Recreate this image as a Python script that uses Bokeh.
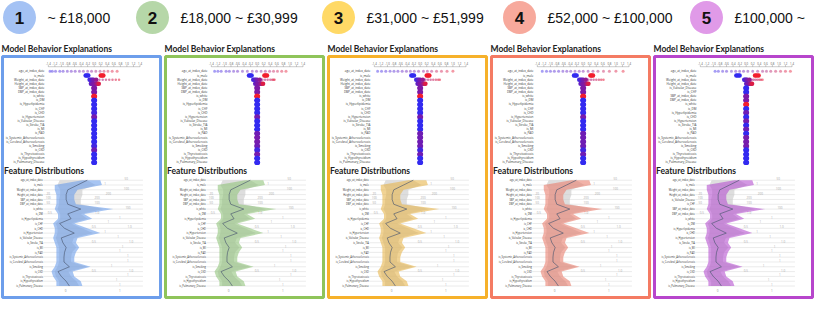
import numpy as np
from bokeh.plotting import figure
from bokeh.layouts import column, row
from bokeh.models import Range1d, LinearColorMapper, ColumnDataSource
from bokeh.core.properties import value
from bokeh.embed import file_html
from bokeh.resources import INLINE

# ---------------- data ----------------
GROUP_NUMBERS = ["1", "2", "3", "4", "5"]
GROUP_LABELS = ["~ £18,000", "£18,000 ~ £30,999", "£31,000 ~ £51,999",
                "£52,000 ~ £100,000", "£100,000 ~"]
CIRCLE_COLORS = ["#a4c2f4", "#b6d7a8", "#ffd966", "#f7a99c", "#e09ae8"]
BORDER_COLORS = ["#6d9eeb", "#8fc45a", "#f6b12a", "#f47b63", "#b746cc"]
BAND_COLORS = ["#6d9eeb", "#93c47d", "#e8b64c", "#ea7f6e", "#b552d0"]

FEATURES = ["age_at_index_date", "is_male", "Weight_at_index_date", "Height_at_index_date",
            "SBP_at_index_date", "DBP_at_index_date", "is_white", "is_DM", "is_Hyperlipidemia",
            "is_CHF", "is_CHD", "is_Hypertension", "is_Valvular_Disease", "is_Stroke_TIA",
            "is_MI", "is_PAD", "is_Systemic_Atherosclerosis", "is_Cerebral_Atherosclerosis",
            "is_Smoking", "is_CKD", "is_Thyrotoxicosis", "is_Hypothyroidism",
            "is_Pulmonary_Disease"]
FEATURES_P5 = ["age_at_index_date", "is_male", "Weight_at_index_date", "Height_at_index_date",
               "is_Valvular_Disease", "is_CHF", "SBP_at_index_date", "DBP_at_index_date",
               "is_white", "is_DM", "is_Hyperlipidemia", "is_CHD", "is_Hypertension",
               "is_Stroke_TIA", "is_MI", "is_PAD", "is_Systemic_Atherosclerosis",
               "is_Cerebral_Atherosclerosis", "is_Smoking", "is_CKD", "is_Thyrotoxicosis",
               "is_Hypothyroidism", "is_Pulmonary_Disease"]
PANEL_FEATURES = [FEATURES, FEATURES, FEATURES, FEATURES, FEATURES_P5]

SHAP_TICKS = [-1.4, -1.2, -1.0, -0.8, -0.6, -0.4, -0.2, 0.0, 0.2, 0.4, 0.6, 0.8, 1.0, 1.2, 1.4]

# SHAP values (x) and normalised feature values (colour) per panel
AGE_SHAP = [
    [-1.35, -1.28, -1.18, -1.05, -0.95, -0.82, -0.7, -0.58, -0.45, -0.33, -0.2, -0.08, 0.05, 0.18, 0.3, 0.42, 0.55, 0.7],
    [-1.3, -1.2, -1.1, -0.95, -0.85, -0.72, -0.6, -0.45, -0.3, -0.15, -0.02, 0.12, 0.25, 0.38, 0.5, 0.62, 0.75, 0.88],
    [-1.3, -1.18, -1.05, -0.92, -0.8, -0.68, -0.55, -0.42, -0.3, -0.18, -0.05, 0.1, 0.22, 0.35, 0.5, 0.65, 0.82, 1.0],
    [-1.25, -1.12, -1.0, -0.88, -0.75, -0.62, -0.5, -0.38, -0.25, -0.12, 0.0, 0.15, 0.3, 0.45, 0.62, 0.8, 1.0, 1.22],
    [-0.95, -0.85, -0.72, -0.6, -0.45, -0.32, -0.2, -0.08, 0.05, 0.2, 0.35, 0.5, 0.62, 0.75, 0.9, 1.05, 1.2, 1.35],
]
AGE_VAL = [
    [0.05, 0.1, 0.15, 0.15, 0.2, 0.25, 0.3, 0.3, 0.4, 0.45, 0.5, 0.55, 0.65, 0.7, 0.8, 0.85, 0.9, 0.95],
    [0.05, 0.1, 0.15, 0.15, 0.2, 0.25, 0.3, 0.35, 0.4, 0.45, 0.5, 0.55, 0.65, 0.7, 0.8, 0.85, 0.9, 0.95],
    [0.05, 0.1, 0.15, 0.2, 0.2, 0.25, 0.3, 0.35, 0.4, 0.45, 0.5, 0.55, 0.65, 0.7, 0.8, 0.85, 0.9, 0.95],
    [0.05, 0.1, 0.15, 0.2, 0.2, 0.25, 0.3, 0.35, 0.4, 0.45, 0.5, 0.55, 0.65, 0.7, 0.8, 0.85, 0.9, 0.95],
    [0.05, 0.1, 0.15, 0.2, 0.25, 0.3, 0.35, 0.4, 0.45, 0.5, 0.6, 0.65, 0.7, 0.75, 0.8, 0.85, 0.9, 0.95],
]
MALE_SHAP = [
    [-0.26, -0.22, -0.18, 0.2, 0.24, 0.28],
    [-0.25, -0.21, -0.17, 0.22, 0.26, 0.3],
    [-0.27, -0.23, -0.19, 0.2, 0.24, 0.28],
    [-0.28, -0.24, -0.2, 0.22, 0.26, 0.3],
    [-0.3, -0.25, -0.2, 0.27, 0.32, 0.38],
]
MALE_VAL = [0, 0, 0, 1, 1, 1]
WEIGHT_SHAP = [
    [-0.14, -0.1, -0.06, -0.02, 0.06, 0.16, 0.26, 0.36, 0.46, 0.56, 0.66, 0.76],
    [-0.12, -0.08, -0.04, 0.0, 0.08, 0.16, 0.24, 0.32, 0.4, 0.46, 0.5, 0.53],
    [-0.12, -0.08, -0.04, 0.0, 0.08, 0.16, 0.24, 0.32, 0.4, 0.48, 0.55, 0.6],
    [-0.12, -0.08, -0.04, 0.0, 0.08, 0.16, 0.24, 0.32, 0.4, 0.48, 0.55, 0.62],
    [-0.06, -0.03, 0.0, 0.03, 0.1, 0.16, 0.22, 0.28, 0.34, 0.4, 0.45, 0.5],
]
WEIGHT_VAL = [0.1, 0.2, 0.3, 0.45, 0.6, 0.65, 0.7, 0.75, 0.8, 0.85, 0.9, 0.95]
HEIGHT_SHAP = [
    [-0.1, -0.06, -0.02, 0.02, 0.06, 0.1, 0.14],
    [-0.06, -0.02, 0.02, 0.06, 0.1, 0.14, 0.18],
    [-0.08, -0.04, 0.0, 0.04, 0.08, 0.12, 0.16],
    [-0.08, -0.04, 0.0, 0.04, 0.08, 0.12, 0.16],
    [0.0, 0.03, 0.06, 0.09, 0.12, 0.15, 0.18],
]
HEIGHT_VAL = [0.3, 0.4, 0.5, 0.5, 0.6, 0.7, 0.9]
COLUMN_SHAP = [-0.015, 0.0, 0.015]
# mean colour value of the remaining (near-zero) rows, in each panel's row order
COLUMN_VAL = [
    [0.5, 0.5, 1.0, 0.0, 0.0, 0.0, 0.1, 0.45, 0.0, 0.0, 0.0, 0.0, 0.0, 0.0, 0.1, 0.4, 0.0, 0.0, 0.0],
    [0.5, 0.5, 1.0, 0.0, 0.0, 0.0, 0.0, 0.45, 0.0, 0.0, 0.0, 0.4, 0.45, 0.45, 0.4, 0.1, 0.45, 0.0, 0.0],
    [0.5, 0.5, 1.0, 0.0, 0.0, 0.0, 0.0, 0.45, 0.0, 0.0, 0.0, 0.4, 0.4, 0.4, 0.4, 0.1, 0.4, 0.0, 0.0],
    [0.5, 0.5, 1.0, 0.0, 0.0, 0.0, 0.0, 0.45, 0.0, 0.0, 0.0, 0.4, 0.4, 0.4, 0.4, 0.1, 0.4, 0.0, 0.0],
    [0.0, 0.0, 0.5, 0.5, 1.0, 0.0, 0.4, 0.0, 0.45, 0.0, 0.4, 0.0, 0.45, 0.45, 0.45, 0.0, 0.0, 0.0, 0.0],
]

# feature distributions (normalised axis positions), per panel, in each panel's row order
DIST_LO = [
    [0.31, -0.20, -0.20, -0.17, -0.17, -0.17, -0.20, -0.14, -0.14, -0.23, -0.20, -0.20, -0.23, -0.20, -0.17, -0.17, -0.17, -0.17, -0.20, -0.26, -0.23, -0.17, -0.17],
] * 5
DIST_MED = [
    [0.40, 0.22, 0.04, 0.01, 0.01, 0.04, 0.28, 0.04, 0.10, -0.11, -0.02, 0.16, -0.08, -0.05, 0.01, -0.02, -0.03, -0.03, 0.07, -0.14, -0.08, 0.01, 0.07],
] * 5
DIST_HI = [
    [0.64, 0.67, 0.22, 0.16, 0.16, 0.19, 0.88, 0.34, 0.49, 0.16, 0.40, 0.64, 0.22, 0.19, 0.25, 0.19, 0.16, 0.16, 0.46, 0.13, 0.16, 0.28, 0.31],
] * 5
GRAY_LO = [-0.11, -0.15, -0.10, -0.10, -0.12, -0.12, -0.15, -0.10, -0.10, -0.18, -0.15, -0.15, -0.18, -0.15, -0.12, -0.12, -0.12, -0.12, -0.15, -0.2, -0.18, -0.12, -0.12]
GRAY_HI = [0.40, 0.55, 0.31, 0.31, 0.28, 0.28, 0.70, 0.28, 0.40, 0.10, 0.30, 0.50, 0.15, 0.12, 0.20, 0.12, 0.10, 0.10, 0.40, 0.05, 0.10, 0.20, 0.25]
DIST_AXIS_ROW = [0, 1, 2, 3, 3, 4, 4, 5, 5, 6, 7, 7, 8, 9, 10, 10, 11, 12, 13, 13, 14, 15, 16, 17, 18, 19, 19, 20, 21, 22]
DIST_AXIS_POS = [1.12, 0.73, 1.12, -0.32, 0.79, -0.32, 0.58, -0.32, 0.58, 1.15, -0.29, 0.58, 1.0, 0.79, 0.52, 1.18, 0.73, 0.97, 0.52, 1.21, 1.05, 1.0, 1.15, 1.15, 0.85, 0.52, 1.21, 1.15, 0.94, 1.0]
DIST_AXIS_TEXT = ["50", "1", "100", "20", "200", "100", "200", "50", "100", "100", "0.5", "1.0", "1", "1",
                  "0.5", "1.0", "1", "1", "0.5", "1.0", "1", "1", "1", "1", "1", "0.5", "1.0", "1", "1", "1"]
DIST_BOTTOM_TICKS = [0, 1]

# ---------------- layout / styling ----------------
def lerp(c1, c2, t):
    return "#%02x%02x%02x" % tuple(int(round(a + (b - a) * t)) for a, b in zip(c1, c2))

BLUE, PURPLE, RED = (0x33, 0x2a, 0xf0), (0x7e, 0x1a, 0xa6), (0xf2, 0x1e, 0x2e)
PALETTE = [lerp(BLUE, PURPLE, i / 31) for i in range(32)] + [lerp(PURPLE, RED, i / 31) for i in range(32)]
mapper = LinearColorMapper(palette=PALETTE, low=0, high=1)

TINY = value("Open Sans")
W_TOTAL = 814
HDR_H = 34
PANEL_H = 265
HEADER_CX = [19, 152, 338, 519, 706]   # header layout (px)
HEADER_GAP = 28

# ---------------- header ----------------
hdr = figure(width=W_TOTAL, height=HDR_H, x_range=Range1d(0, W_TOTAL), y_range=Range1d(HDR_H, 0),
             output_backend="svg", toolbar_location=None, x_axis_location=None,
             y_axis_location=None, min_border=0, outline_line_color=None)
hdr.grid.visible = False
hsrc = ColumnDataSource(dict(cx=HEADER_CX, lx=[c + HEADER_GAP for c in HEADER_CX],
                             y=[HDR_H / 2] * 5, num=GROUP_NUMBERS, lab=GROUP_LABELS,
                             col=CIRCLE_COLORS))
hdr.scatter("cx", "y", source=hsrc, size=33, fill_color="col", line_color=None)
hdr.text("cx", "y", text="num", source=hsrc, text_font=value("Liberation Sans"),
         text_font_size="17px", text_font_style="bold", text_align="center",
         text_baseline="middle", text_color="#111111")
hdr.text("lx", "y", text="lab", source=hsrc, text_font=value("Liberation Sans"),
         text_font_size="14px", text_align="left", text_baseline="middle",
         text_color="#111111")

# ---------------- panels ----------------
# geometry of a panel box (reference px, relative to box top/left): box 162 x 248
BOX_W, BOX_H = 162.0, 248.0
SHAP_PX, SHAP_LEFT = 33.57, 47.0          # px per SHAP unit, x of -1.4
BEE_ROW0, BEE_STEP = 15.3, 4.26
DIST_PX, DIST_ZERO = 55.6, 64.7
DIST_ROW0, DIST_STEP = 127.3, 4.95

shap_x = (-1.4 - SHAP_LEFT / SHAP_PX, -1.4 + (BOX_W - SHAP_LEFT) / SHAP_PX)
bee_top = -BEE_ROW0 / BEE_STEP
bee_y = (bee_top + BOX_H / BEE_STEP, bee_top)
dist_x = (-DIST_ZERO / DIST_PX, (BOX_W - DIST_ZERO) / DIST_PX)
dist_top = -DIST_ROW0 / DIST_STEP
dist_y = (dist_top + BOX_H / DIST_STEP, dist_top)


def bee_y_of(px):
    return bee_top + px / BEE_STEP


def make_panel(k):
    feats = PANEL_FEATURES[k]
    n = len(feats)
    rows_idx = list(range(n))
    p = figure(width=162, height=PANEL_H,
               x_range=Range1d(*shap_x), y_range=Range1d(*bee_y),
               output_backend="svg", toolbar_location=None, x_axis_location=None,
               y_axis_location=None, min_border_left=2, min_border_right=2,
               min_border_top=22, min_border_bottom=2)
    p.extra_x_ranges = {"dist": Range1d(*dist_x)}
    p.extra_y_ranges = {"dist": Range1d(*dist_y)}
    p.grid.visible = False
    p.outline_line_color = BORDER_COLORS[k]
    p.outline_line_width = 3
    p.outline_line_alpha = 1
    p.title.text = "Model Behavior Explanations"
    p.title.text_font = "Lato"
    p.title.text_font_size = "8.5px"
    p.title.text_font_style = "bold"
    p.title.text_color = "#222222"
    p.title.align = "left"
    p.title.offset = -1
    p.title.standoff = 6

    # --- SHAP axis (top of beeswarm)
    ty = bee_y_of(7.0)
    tick_y0, tick_y1 = bee_y_of(9.0), bee_y_of(10.5)
    p.text(x=SHAP_TICKS, y=[ty] * len(SHAP_TICKS), text=[f"{t:.1f}" for t in SHAP_TICKS],
           text_font=TINY, text_font_size="2.8px", text_align="center", text_baseline="middle",
           text_color="#555555")
    p.segment(x0=SHAP_TICKS, y0=[tick_y0] * len(SHAP_TICKS), x1=SHAP_TICKS,
              y1=[tick_y1] * len(SHAP_TICKS), line_color="#777777", line_width=0.5)
    p.segment(x0=[SHAP_TICKS[0]], y0=[tick_y1], x1=[SHAP_TICKS[-1]], y1=[tick_y1],
              line_color="#999999", line_width=0.5)

    # --- feature labels
    p.text(x=[-1.4 - 4.0 / SHAP_PX] * n, y=rows_idx, text=feats, text_font=TINY,
           text_font_size="3px", text_align="right", text_baseline="middle",
           text_color="#333333")

    # --- beeswarm points
    def add(xs, vals, row_name, size, alpha):
        r = feats.index(row_name)
        src = ColumnDataSource(dict(x=xs, y=[r] * len(xs), v=vals))
        p.scatter("x", "y", source=src, size=size, alpha=alpha,
                  fill_color={"field": "v", "transform": mapper}, line_color=None)

    add(AGE_SHAP[k], AGE_VAL[k], "age_at_index_date", 3, 0.45)
    add(MALE_SHAP[k], MALE_VAL, "is_male", 4.5, 1.0)
    ws, wv = WEIGHT_SHAP[k], WEIGHT_VAL
    add([s for s in ws if abs(s) >= 0.15], [v for s, v in zip(ws, wv) if abs(s) >= 0.15],
        "Weight_at_index_date", 2.5, 0.55)
    add([s for s in ws if abs(s) < 0.15], [v for s, v in zip(ws, wv) if abs(s) < 0.15],
        "Weight_at_index_date", 4.5, 1.0)
    add(HEIGHT_SHAP[k], HEIGHT_VAL, "Height_at_index_date", 4.5, 1.0)
    xs, ys, vs = [], [], []
    for j, val in enumerate(COLUMN_VAL[k]):
        for s in COLUMN_SHAP:
            xs.append(s)
            ys.append(4 + j)
            vs.append(val)
    src = ColumnDataSource(dict(x=xs, y=ys, v=vs))
    p.scatter("x", "y", source=src, size=5,
              fill_color={"field": "v", "transform": mapper}, line_color=None)

    # --- section title
    p.text(x=[shap_x[0] + 1.5 / SHAP_PX], y=[bee_y_of(118.0)], text=["Feature Distributions"],
           text_font=value("Lato"), text_font_size="8.5px", text_font_style="bold",
           text_align="left", text_baseline="middle", text_color="#222222")

    # --- distributions
    lab_x = (42.0 - DIST_ZERO) / DIST_PX
    end_x = (144.0 - DIST_ZERO) / DIST_PX
    p.segment(x0=[lab_x] * n, y0=rows_idx, x1=[end_x] * n, y1=rows_idx, line_color="#dddddd",
              line_width=0.6, x_range_name="dist", y_range_name="dist")
    p.text(x=[lab_x - 0.01] * n, y=rows_idx, text=feats, text_font=TINY, text_font_size="2.6px",
           text_align="right", text_baseline="middle", text_color="#333333",
           x_range_name="dist", y_range_name="dist")
    p.text(x=DIST_AXIS_POS, y=DIST_AXIS_ROW, text=DIST_AXIS_TEXT, text_font=TINY,
           text_font_size="3px", text_align="center", text_baseline="bottom",
           text_color="#aaaaaa", x_range_name="dist", y_range_name="dist")
    p.harea(y=rows_idx, x1=GRAY_LO, x2=GRAY_HI, fill_color="#c8c8c8", fill_alpha=0.6,
            x_range_name="dist", y_range_name="dist")
    p.harea(y=rows_idx, x1=DIST_LO[k], x2=DIST_HI[k], fill_color=BAND_COLORS[k], fill_alpha=0.6,
            x_range_name="dist", y_range_name="dist")
    p.line(x=DIST_MED[k], y=rows_idx, line_color="#4a5670", line_width=0.8, line_alpha=0.8,
           x_range_name="dist", y_range_name="dist")
    p.text(x=DIST_BOTTOM_TICKS, y=[n - 1 + 0.9] * 2, text=[str(t) for t in DIST_BOTTOM_TICKS],
           text_font=TINY, text_font_size="3px", text_align="center", text_baseline="middle",
           text_color="#888888", x_range_name="dist", y_range_name="dist")
    return p


panels = [make_panel(k) for k in range(5)]
layout = column(hdr, row(*panels, spacing=1), spacing=0)

open("out.html", "w").write(file_html(layout, INLINE))
